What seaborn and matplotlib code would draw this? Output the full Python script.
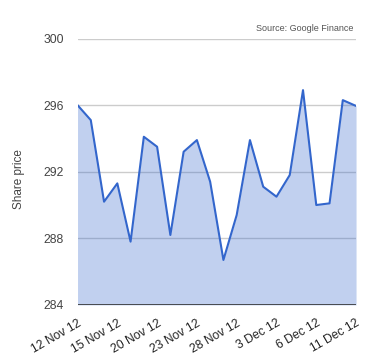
import matplotlib
matplotlib.use("Agg")
import matplotlib.pyplot as plt
import seaborn as sns
import pandas as pd
import numpy as np

dates = ["12 Nov 12", "13 Nov 12", "14 Nov 12", "15 Nov 12", "16 Nov 12", "19 Nov 12",
         "20 Nov 12", "21 Nov 12", "22 Nov 12", "23 Nov 12", "26 Nov 12", "27 Nov 12",
         "28 Nov 12", "29 Nov 12", "30 Nov 12", "3 Dec 12", "4 Dec 12", "5 Dec 12",
         "6 Dec 12", "7 Dec 12", "10 Dec 12", "11 Dec 12"]
prices = [296.0, 295.1, 290.2, 291.3, 287.8, 294.1, 293.5, 288.2, 293.2, 293.9, 291.4,
          286.7, 289.4, 293.9, 291.1, 290.5, 291.8, 296.9, 290.0, 290.1, 296.3, 295.95]
yticks = [284, 288, 292, 296, 300]
xtick_labels = ["12 Nov 12", "15 Nov 12", "20 Nov 12", "23 Nov 12", "28 Nov 12",
                "3 Dec 12", "6 Dec 12", "11 Dec 12"]

df = pd.DataFrame({"idx": np.arange(len(dates)), "date": dates, "price": prices})

sns.set_theme(style="white")
plt.rcParams['font.family'] = ['Liberation Sans', 'DejaVu Sans']

fig = plt.figure(figsize=(3.8, 3.6), dpi=100)
ax = fig.add_axes([0.204, 0.153, 0.733, 0.740])

line_color = "#3366cc"
for y in yticks[1:]:
    ax.axhline(y, color="#cccccc", lw=1, zorder=0)
ax.fill_between(df["idx"], yticks[0], df["price"], color=line_color, alpha=0.3, lw=0, zorder=1)
sns.lineplot(data=df, x="idx", y="price", ax=ax, color=line_color, lw=1.5, zorder=3)
ax.axhline(yticks[0], color="#333333", lw=1.2, zorder=4)

ax.set_xlim(0, len(dates) - 1)
ax.set_ylim(yticks[0], yticks[-1])
ax.set_yticks(yticks)
ax.set_yticklabels([str(v) for v in yticks], fontsize=8.7, color="#444444")
pos = [dates.index(d) for d in xtick_labels]
ax.set_xticks(pos)
ax.set_xticklabels(xtick_labels, rotation=30, ha="right", rotation_mode="anchor",
                   fontsize=8.7, color="#222222")
ax.tick_params(axis="y", length=0, pad=9.7)
ax.tick_params(axis="x", length=0, pad=9)
for s in ax.spines.values():
    s.set_visible(False)
ax.set_xlabel("")
ax.set_ylabel("Share price", fontsize=8.5, color="#444444")
ax.yaxis.set_label_coords(-0.19, 0.473)
fig.text(0.93, 0.922, "Source: Google Finance", ha="right", va="center",
         fontsize=6.5, color="#555555")

fig.savefig("out.png", dpi=100)
